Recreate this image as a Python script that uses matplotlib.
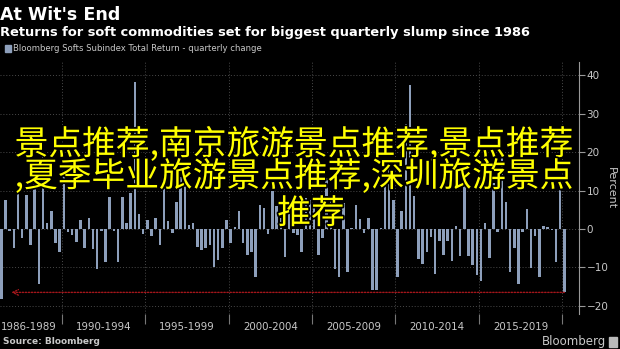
import numpy as np
import matplotlib
matplotlib.use("Agg")
import matplotlib.pyplot as plt
import matplotlib.patheffects as pe
from matplotlib.ticker import FixedLocator

# Bloomberg Softs Subindex Total Return, quarterly change (%), 1986 Q2 .. 2020 Q1
start_year, start_q = 1986, 2
returns = [
    -18.1, 7.6, -0.4, -5.0, 10.0, -2.4, 8.9, -4.2, 11.8, -14.4, 20.0, 1.5,
    4.8, -3.7, -5.9, 15.0, -0.7, -1.6, -3.3, 2.3, -5.0, 2.8, -5.3, -10.3,
    -0.4, -8.5, 8.4, -0.4, -8.5, 8.4, 1.5, 9.3, 38.4, 3.9, -1.3, 2.3,
    -1.7, 2.8, -4.2, 11.0, 2.2, -1.1, 7.1, 13.5, 12.0, 1.0, 1.5,
    -4.6, -5.5, -4.9, -4.2, -9.8, -8.1, -4.9, 2.3, -3.7, 0.6, 4.7, -3.7,
    -6.8, -5.9, -12.6, 6.3, 5.4, -1.3, 10.0, 6.0, 2.8, -7.2,
    4.0, -1.1, -1.6, -5.9, 8.0, 7.6, 6.0, -6.8, -2.4, 13.2, 8.0, -10.3,
    -12.6, 6.7, -11.1, 0.2, 6.3, 2.6, -1.1, 3.0, -15.9, -15.9, 0.3,
    12.0, 18.0, 7.5, -12.4, 4.6, 27.4, 37.6, 8.6, -7.7, -9.0, -5.9, -2.0,
    -11.8, -3.0, -6.8, -3.0, -8.3, 0.9, -7.0, 12.0, -7.0, -9.3,
    -11.9, -13.6, 1.6, -7.5, 12.0, -0.9, 20.6, 7.0, -11.1, -4.9, -14.2, -0.7,
    5.2, -10.1, -1.7, -12.4, 0.8, 0.4, -0.2, -8.5, 12.0, -16.5,
]
period_labels = ["1986-1989", "1990-1994", "1995-1999", "2000-2004",
                 "2005-2009", "2010-2014", "2015-2019"]
yticks = [-20, -10, 0, 10, 20, 30, 40]

title = "At Wit's End"
subtitle = "Returns for soft commodities set for biggest quarterly slump since 1986"
legend_txt = "Bloomberg Softs Subindex Total Return - quarterly change"
overlay = ["景点推荐,南京旅游景点推荐,景点推荐",
           ",夏季毕业旅游景点推荐,深圳旅游景点",
           "推荐"]

BAR = "#8d9fbb"
GRID = "#4a4a4a"
TXT = "#c8c8c8"

W, H = 620, 349
fig = plt.figure(figsize=(W / 100, H / 100), dpi=100, facecolor="black")

def fx(px):
    return px / W

def fy(py):
    return 1 - py / H

ax = fig.add_axes([0, fy(313.5), fx(579), fy(62) - fy(313.5)])
ax.set_facecolor("black")

n = len(returns)
x = np.arange(n)
ax.bar(x, returns, width=0.6, color=BAR, zorder=3)

# period boundaries: first quarter of every year divisible by 5
years = [start_year + (start_q - 1 + i) // 4 for i in range(n)]
quarters = [(start_q - 1 + i) % 4 + 1 for i in range(n)]
seps = [i - 0.5 for i in range(n) if quarters[i] == 1 and years[i] % 5 == 0]
first = -(start_q - 1) - 0.5
edges = [first] + seps
centers = [(edges[i] + edges[i + 1]) / 2 for i in range(len(period_labels))]

ax.set_xlim(-0.31, 138.5)
ax.set_ylim(-22, 43.5)

ax.xaxis.set_major_locator(FixedLocator(centers))
ax.set_xticklabels(period_labels)
ax.xaxis.set_minor_locator(FixedLocator(seps))
ax.tick_params(axis="x", which="major", length=0, labelsize=7.4,
               labelcolor=TXT, pad=6)
ax.tick_params(axis="x", which="minor", length=7, color="#777777", width=0.8)
for s in seps:
    ax.axvline(s, color=GRID, lw=0.7, ls=(0, (1, 2)), zorder=1)

ax.yaxis.tick_right()
ax.yaxis.set_major_locator(FixedLocator(yticks))
ax.tick_params(axis="y", length=4, color="#999999", labelsize=7.5,
               labelcolor=TXT, pad=1.5)
for t in yticks:
    ax.axhline(t, color=GRID, lw=0.7, ls=(0, (1, 2)), zorder=1)
ax.yaxis.set_label_position("right")
ax.set_ylabel("Percent", rotation=270, color=TXT, fontsize=8, labelpad=5)

for side in ["top", "left", "bottom"]:
    ax.spines[side].set_visible(False)
ax.spines["right"].set_color("#999999")
ax.spines["right"].set_linewidth(0.8)

# dotted red marker at the latest slump
low = returns[-1]
ax.annotate("", xy=(2.4, low), xytext=(n - 1, low),
            arrowprops=dict(arrowstyle="->", color="#a3161b", lw=1.0,
                            ls=(0, (1, 1.2)), shrinkA=0, shrinkB=0),
            zorder=4)

# header texts
fig.text(fx(0), fy(20), title, color="white", fontsize=12.6,
         fontweight="bold", va="baseline", ha="left")
fig.text(fx(0), fy(36), subtitle, color="white", fontsize=9.35,
         fontweight="bold", va="baseline", ha="left")
fig.patches.append(plt.Rectangle((fx(5), fy(52)), fx(6), fy(45) - fy(52),
                                 transform=fig.transFigure, color=BAR))
fig.text(fx(13), fy(48.5), legend_txt, color=TXT, fontsize=6.15,
         va="center", ha="left")

# footer
fig.text(fx(3), fy(342), "Source: Bloomberg", color=TXT, fontsize=6.5,
         fontweight="bold", va="center", ha="left")
fig.text(fx(606), fy(342), "Bloomberg", color=TXT, fontsize=8.5,
         va="center", ha="right")
fig.patches.append(plt.Rectangle((fx(609), fy(347)), fx(8), fy(337) - fy(347),
                                 transform=fig.transFigure, color="#bbbbbb"))

# overlay text
stroke = [pe.withStroke(linewidth=2.5, foreground="black")]
for line, cx, cy in zip(overlay, [294, 294, 311], [145, 177, 214]):
    fig.text(fx(cx), fy(cy), line, color="#ffff00", fontsize=24.3,
             family=["Noto Sans CJK SC", "DejaVu Sans"], ha="center",
             va="center", path_effects=stroke, zorder=10)

fig.savefig("out.png", dpi=100, facecolor="black")
